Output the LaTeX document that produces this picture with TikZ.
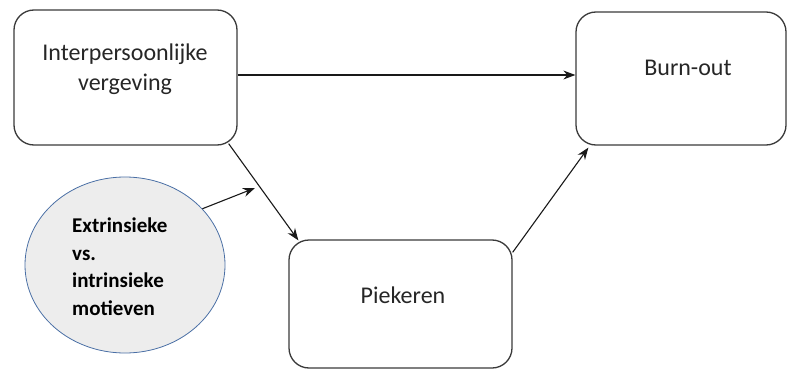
\documentclass[tikz,border=0pt]{standalone}
\usepackage{fontspec}
\setmainfont{Carlito}
\usetikzlibrary{shapes.geometric,arrows.meta}
\definecolor{boxline}{HTML}{3A3A3A}
\definecolor{txt}{HTML}{262626}
\definecolor{ellfill}{HTML}{EDEDED}
\definecolor{ellline}{HTML}{4A6FA5}
\tikzset{
  box/.style={draw=boxline,line width=1.3pt,rounded corners=20pt,inner sep=0pt},
  lbl/.style={anchor=base,inner sep=0pt,text=txt,font=\fontsize{24}{30}\selectfont},
  elbl/.style={anchor=base west,inner sep=0pt,text=black,font=\fontsize{21}{27}\selectfont\bfseries},
  conn/.style={draw=black!90,line width=1.1pt,-{Stealth[length=12pt,width=9pt]}}
}
\begin{document}
\begin{tikzpicture}[x=1pt,y=-1pt]
\useasboundingbox (0,0) rectangle (787,369);
% boxes
\node[box,minimum width=223pt,minimum height=135pt] (b1) at (125.5,77.5) {};
\node[box,minimum width=210pt,minimum height=133pt] (burn) at (681,78.5) {};
\node[box,minimum width=223pt,minimum height=128pt] (piek) at (400.5,304) {};
\node[ellipse,draw=ellline,fill=ellfill,line width=0.8pt,minimum width=200pt,minimum height=176pt,inner sep=0pt] (ell) at (125,265) {};
% labels
\node[lbl] (t1a) at (125,61) {Interpersoonlijke};
\node[lbl] (t1b) at (125,91) {vergeving};
\node[lbl] (t2) at (688,76) {Burn-out};
\node[lbl] (t3) at (403,303) {Piekeren};
\node[elbl] (e1) at (72,232) {Extrinsieke};
\node[elbl] (e2) at (72,260) {vs.};
\node[elbl] (e3) at (72,287.5) {intrinsieke};
\node[elbl] (e4) at (72,315) {motieven};
% connectors
\coordinate (tip) at (255,188);
\draw[conn] (b1.east |- 0,75) -- (burn.west |- 0,75);
\draw[conn] ([xshift=-9pt,yshift=2pt]b1.south east) -- ([xshift=10pt,yshift=-1pt]piek.north west);
\draw[conn] (ell.36) -- (tip);
\draw[conn] ([yshift=-13pt]piek.north east) -- ([xshift=13pt,yshift=-2pt]burn.south west);
\end{tikzpicture}
\end{document}
